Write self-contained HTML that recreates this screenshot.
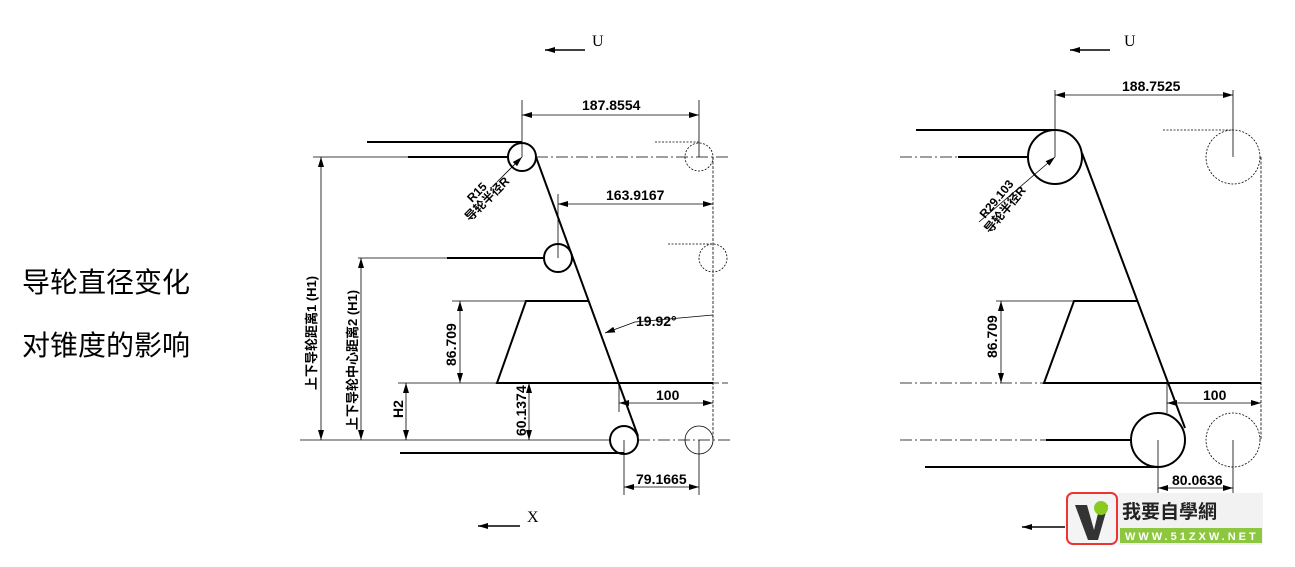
<!DOCTYPE html>
<html><head><meta charset="utf-8"><style>
html,body{margin:0;padding:0;background:#fff;width:1295px;height:567px;overflow:hidden}
svg{display:block}
text{font-family:"Liberation Sans","Noto Sans CJK SC",sans-serif;fill:#000}
.n{font-family:"Liberation Sans Narrow","Liberation Sans","Noto Sans CJK SC",sans-serif;font-size:14px;font-weight:bold}
</style></head><body>
<svg width="1295" height="567" viewBox="0 0 1295 567" xmlns="http://www.w3.org/2000/svg">
<defs>
<marker id="a" viewBox="0 0 10 6" refX="10" refY="3" markerWidth="10" markerHeight="6" orient="auto-start-reverse" markerUnits="userSpaceOnUse"><path d="M0,0 L10,3 L0,6 z" fill="#000"/></marker>
</defs>
<text x="22" y="292" font-size="28" textLength="168" lengthAdjust="spacingAndGlyphs">导轮直径变化</text>
<text x="22" y="355" font-size="28" textLength="168" lengthAdjust="spacingAndGlyphs">对锥度的影响</text>
<g stroke="#000" stroke-width="1.5">
<line x1="585" y1="50" x2="545" y2="50" marker-end="url(#a)"/>
<line x1="1110" y1="50" x2="1070" y2="50" marker-end="url(#a)"/>
<line x1="520" y1="526" x2="478" y2="526" marker-end="url(#a)"/>
<line x1="1065" y1="527" x2="1022" y2="527" marker-end="url(#a)"/>
</g>
<text x="592" y="46" font-size="16" font-family="Liberation Serif" style="font-family:'Liberation Serif',serif">U</text>
<text x="1124" y="46" font-size="16" style="font-family:'Liberation Serif',serif">U</text>
<text x="527" y="522" font-size="16" style="font-family:'Liberation Serif',serif">X</text>

<g fill="none" stroke="#000">
<g stroke-width="2">
<line x1="367" y1="142" x2="522" y2="142"/>
<line x1="408" y1="157" x2="508" y2="157"/>
<circle cx="522" cy="157" r="14"/>
<line x1="447" y1="258" x2="544" y2="258"/>
<circle cx="558" cy="258" r="14"/>
<circle cx="624" cy="440" r="14"/>
<line x1="400" y1="453" x2="624" y2="453"/>
<line x1="536" y1="157" x2="638" y2="436"/>
<polyline points="588,301 526,301 497,383 713,383"/>
</g>
<g stroke-width="0.8">
<line x1="536" y1="157" x2="730" y2="157" stroke-dasharray="12,3,2,3"/>
<line x1="300" y1="440" x2="610" y2="440"/>
<line x1="638" y1="440" x2="730" y2="440" stroke-dasharray="12,3,2,3"/>
<line x1="713" y1="383" x2="728" y2="383" stroke-dasharray="6,3"/>
<circle cx="699" cy="157" r="14" stroke-dasharray="2,1.5"/>
<circle cx="713" cy="258" r="14" stroke-dasharray="2,1.5"/>
<circle cx="699" cy="440" r="14"/>
<line x1="655" y1="142" x2="699" y2="142" stroke-dasharray="2,1.5"/>
<line x1="668" y1="244" x2="713" y2="244" stroke-dasharray="2,1.5"/>
<line x1="713" y1="157" x2="713" y2="440" stroke-dasharray="3,1.5"/>
<line x1="358" y1="258" x2="447" y2="258"/>
<line x1="398" y1="383" x2="497" y2="383"/>
<line x1="452" y1="301" x2="526" y2="301"/>
<line x1="522" y1="100" x2="522" y2="157"/>
<line x1="699" y1="100" x2="699" y2="157"/>
<line x1="522" y1="115" x2="699" y2="115" marker-start="url(#a)" marker-end="url(#a)"/>
<line x1="558" y1="194" x2="558" y2="258"/>
<line x1="558" y1="204" x2="713" y2="204" marker-start="url(#a)" marker-end="url(#a)"/>
<line x1="321" y1="157" x2="321" y2="440" marker-start="url(#a)" marker-end="url(#a)"/>
<line x1="313" y1="157" x2="508" y2="157"/>
<line x1="361" y1="258" x2="361" y2="440" marker-start="url(#a)" marker-end="url(#a)"/>
<line x1="406" y1="383" x2="406" y2="440" marker-start="url(#a)" marker-end="url(#a)"/>
<line x1="460" y1="301" x2="460" y2="383" marker-start="url(#a)" marker-end="url(#a)"/>
<line x1="529" y1="383" x2="529" y2="440" marker-start="url(#a)" marker-end="url(#a)"/>
<line x1="619" y1="383" x2="619" y2="412"/>
<line x1="619" y1="403" x2="713" y2="403" marker-start="url(#a)" marker-end="url(#a)"/>
<line x1="624" y1="440" x2="624" y2="495"/>
<line x1="699" y1="440" x2="699" y2="495"/>
<line x1="624" y1="487" x2="699" y2="487" marker-start="url(#a)" marker-end="url(#a)"/>
<line x1="522" y1="157" x2="497" y2="182" marker-start="url(#a)"/>
<polyline points="605,333 635,322 713,315" marker-start="url(#a)"/>
</g>
</g>
<text class="n" x="582" y="110">187.8554</text>
<text class="n" x="606" y="200">163.9167</text>
<text class="n" x="636" y="326">19.92°</text>
<text class="n" x="656" y="400">100</text>
<text class="n" x="636" y="484">79.1665</text>
<text class="n" transform="translate(456,366) rotate(-90)">86.709</text>
<text class="n" transform="translate(526,436) rotate(-90)">60.1374</text>
<text class="n" font-size="12" transform="translate(403,418) rotate(-90)">H2</text>
<text font-size="13" font-weight="bold" transform="translate(316,390) rotate(-90)">上下导轮距离1 (H1)</text>
<text font-size="13" font-weight="bold" transform="translate(357,430) rotate(-90)">上下导轮中心距离2 (H1)</text>
<text font-size="12" font-weight="bold" transform="translate(472,203) rotate(-45)">R15</text>
<text font-size="12" font-weight="bold" transform="translate(470,222) rotate(-45)">导轮半径R</text>

<g fill="none" stroke="#000">
<g stroke-width="2">
<line x1="916" y1="130" x2="1055" y2="130"/>
<line x1="958" y1="157" x2="1028" y2="157"/>
<circle cx="1055" cy="157" r="27"/>
<line x1="1046" y1="440" x2="1131" y2="440"/>
<circle cx="1158" cy="440" r="27"/>
<line x1="925" y1="467" x2="1158" y2="467"/>
<line x1="1082" y1="153" x2="1185" y2="428"/>
<polyline points="1137,301 1074,301 1044,383 1261,383"/>
</g>
<g stroke-width="0.8">
<line x1="900" y1="157" x2="958" y2="157" stroke-dasharray="12,3,2,3"/>
<line x1="900" y1="383" x2="1044" y2="383" stroke-dasharray="12,3,2,3"/>
<line x1="900" y1="440" x2="1046" y2="440" stroke-dasharray="12,3,2,3"/>
<circle cx="1233" cy="157" r="27" stroke-dasharray="2,1.5"/>
<circle cx="1233" cy="440" r="27" stroke-dasharray="2,1.5"/>
<line x1="1163" y1="130" x2="1233" y2="130" stroke-dasharray="2,1.5"/>
<line x1="1261" y1="157" x2="1261" y2="440" stroke-dasharray="3,1.5"/>
<line x1="1055" y1="90" x2="1055" y2="157"/>
<line x1="1233" y1="90" x2="1233" y2="157"/>
<line x1="1055" y1="95" x2="1233" y2="95" marker-start="url(#a)" marker-end="url(#a)"/>
<line x1="996" y1="301" x2="1074" y2="301"/>
<line x1="1001" y1="301" x2="1001" y2="383" marker-start="url(#a)" marker-end="url(#a)"/>
<line x1="1167" y1="383" x2="1167" y2="413"/>
<line x1="1167" y1="403" x2="1261" y2="403" marker-start="url(#a)" marker-end="url(#a)"/>
<line x1="1158" y1="440" x2="1158" y2="495"/>
<line x1="1233" y1="440" x2="1233" y2="495"/>
<line x1="1158" y1="488" x2="1233" y2="488" marker-start="url(#a)" marker-end="url(#a)"/>
<line x1="1055" y1="157" x2="979" y2="222" marker-start="url(#a)"/>
</g>
</g>
<text class="n" font-size="12" x="1122" y="91">188.7525</text>
<text class="n" font-size="12" transform="translate(997,358) rotate(-90)">86.709</text>
<text class="n" x="1203" y="400">100</text>
<text class="n" x="1172" y="485">80.0636</text>
<text font-size="12" font-weight="bold" transform="translate(985,219) rotate(-50)">R29.103</text>
<text font-size="12" font-weight="bold" transform="translate(990,234) rotate(-50)">导轮半径R</text>

<rect x="1067" y="493" width="50" height="51" rx="6" fill="#f4f4f4" stroke="#e33" stroke-width="2"/>
<path d="M1075,505 L1087,505 L1094,530 L1100,505 L1108,505 L1098,540 L1088,540 Z" fill="#333"/>
<circle cx="1101" cy="508" r="7" fill="#8c2"/>
<rect x="1118" y="493" width="145" height="52" fill="#f2f2f2"/>
<text x="1122" y="518" font-size="19" font-weight="bold" style="fill:#222">我要自學網</text>
<rect x="1120" y="528" width="142" height="15" fill="#8dc63f"/>
<text x="1125" y="540" font-size="11" font-weight="bold" letter-spacing="3" style="fill:#fff">WWW.51ZXW.NET</text>
</svg>
</body></html>
